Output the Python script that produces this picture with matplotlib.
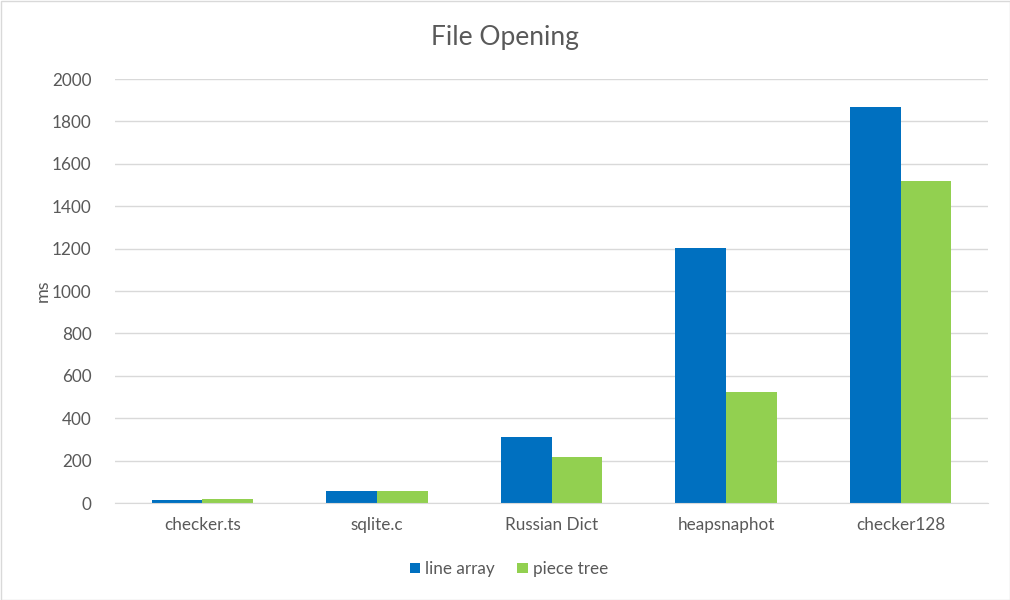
import numpy as np
from matplotlib import pyplot as plt
from matplotlib.patches import Rectangle

categories = ["checker.ts", "sqlite.c", "Russian Dict", "heapsnaphot", "checker128"]
line_array = [16, 56, 312, 1203, 1870]
piece_tree = [21, 56, 216, 522, 1521]

plt.rcParams['font.family'] = ['Lato', 'DejaVu Sans']

fig = plt.figure(figsize=(10.1, 6.0), dpi=100)
ax = fig.add_axes([115 / 1010, 1 - 503 / 600, 873 / 1010, 424 / 600])

x = np.arange(len(categories))
width = 0.29
ax.bar(x - width / 2, line_array, width, color="#0070C0", label="line array")
ax.bar(x + width / 2, piece_tree, width, color="#92D050", label="piece tree")

ax.set_xlim(-0.5, len(categories) - 0.5)
ax.set_ylim(0, 2000)
ax.set_yticks(range(0, 2001, 200))
ax.set_xticks(x)
ax.set_xticklabels(categories)
ax.tick_params(axis='both', length=0, labelsize=12.3, colors="#595959")
ax.tick_params(axis='y', pad=17)
ax.tick_params(axis='x', pad=10)
ax.grid(axis='y', color="#d9d9d9", linewidth=1)
ax.set_axisbelow(True)
for side in ["top", "right", "left"]:
    ax.spines[side].set_visible(False)
ax.spines["bottom"].set_color("#d9d9d9")

fig.text(43 / 1010, 1 - 291 / 600, "ms", rotation=90, ha="center", va="center", fontsize=13, color="#595959")
fig.text(0.5, 1 - 37 / 600, "File Opening", ha="center", va="center", fontsize=19, color="#595959")

fig.legend(loc="center", bbox_to_anchor=(509 / 1010, 1 - 569 / 600), ncol=2, frameon=False,
           fontsize=12.3, labelcolor="#595959", handlelength=0.6, handleheight=0.6,
           handletextpad=0.3, columnspacing=1.3)

fig.patches.append(Rectangle((0.5 / 1010, 0.5 / 600), 1 - 1 / 1010, 1 - 1 / 600, transform=fig.transFigure,
                             fill=False, edgecolor="#d9d9d9", linewidth=1))

fig.savefig("out.png", dpi=100)
